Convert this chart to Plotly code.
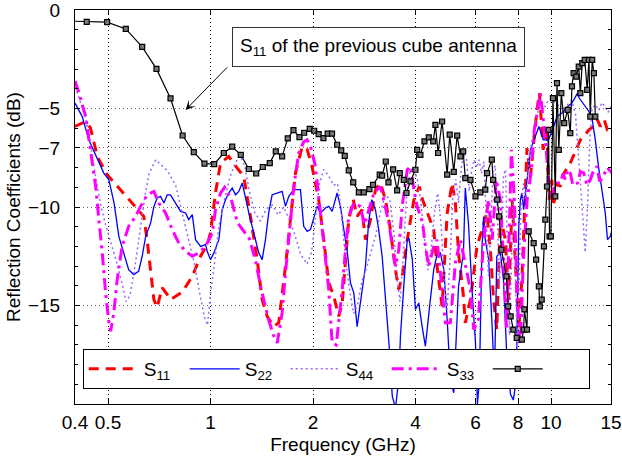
import math
import plotly.graph_objects as go

# ---------------- data (frequency in GHz, reflection in dB) ----------------
freq_ticks = [0.4, 0.5, 1, 2, 4, 6, 8, 10, 15]
freq_tick_text = ['0.4', '0.5', '1', '2', '4', '6', '8', '10', '15']
db_ticks = [0, -5, -7, -10, -15]
db_tick_text = ['0', '\u22125', '\u22127', '\u221210', '\u221215']
db_minor = [-1, -2, -3, -4, -6, -8, -9, -11, -12, -13, -14, -16, -17, -18, -19]

s11_pts = [(0.40, -5.91), (0.43, -5.66), (0.444, -5.98), (0.465, -7.43), (0.497, -8.36), (0.538, -9.04),
           (0.589, -9.83), (0.637, -10.48), (0.652, -11.74), (0.667, -13.35), (0.682, -14.70), (0.697, -15.10),
           (0.721, -14.09), (0.743, -14.40), (0.763, -14.70), (0.826, -14.32), (0.884, -13.52), (0.935, -12.50),
           (0.978, -11.91), (1.0, -11.32), (1.034, -9.29), (1.07, -7.77), (1.131, -7.43), (1.197, -8.02),
           (1.252, -8.45), (1.31, -10.48), (1.371, -12.67), (1.418, -14.70), (1.467, -15.55), (1.533, -16.06),
           (1.586, -15.88), (1.66, -13.01), (1.717, -10.48), (1.776, -8.28), (1.859, -6.93), (1.923, -7.09),
           (1.987, -7.94), (2.078, -9.63), (2.151, -11.66), (2.225, -13.85), (2.302, -14.53), (2.38, -15.55),
           (2.437, -14.87), (2.49, -12.67), (2.547, -10.64), (2.625, -9.63), (2.695, -10.48), (2.786, -10.14),
           (2.851, -11.66), (2.949, -10.64), (3.05, -9.12), (3.155, -8.78), (3.264, -9.63), (3.376, -11.15),
           (3.492, -13.18), (3.572, -14.19), (3.654, -13.52), (3.782, -11.66), (3.957, -9.63), (4.104, -8.96),
           (4.195, -9.63), (4.375, -10.48), (4.524, -11.15), (4.626, -13.01), (4.787, -15.04), (4.955, -10.30),
           (5.124, -8.78), (5.237, -9.80), (5.35, -12.33), (5.53, -14.53), (5.6, -15.88), (5.8, -14.70),
           (6.06, -12.0), (6.27, -11.15), (6.48, -10.30), (6.635, -12.17), (6.78, -14.70), (6.93, -16.22),
           (7.1, -10.48), (7.34, -11.66), (7.51, -14.70), (7.69, -9.63), (7.86, -12.67), (8.04, -16.22),
           (8.21, -13.69), (8.5, -7.01), (8.7, -8.45), (8.89, -6.59), (9.09, -5.07), (9.25, -4.22),
           (9.48, -7.10), (9.72, -5.91), (9.87, -9.63), (10.05, -8.62), (10.16, -9.97), (10.41, -8.78),
           (10.65, -8.96), (10.92, -8.28), (11.39, -7.77), (11.96, -6.93), (12.19, -6.59), (12.48, -6.42),
           (12.92, -6.08), (13.36, -5.91), (13.68, -5.57), (13.95, -5.91), (14.33, -5.57), (14.63, -6.08),
           (15.1, -5.98)]

s22_pts = [(0.40, -4.73), (0.42, -5.41), (0.439, -6.59), (0.46, -7.35), (0.47, -7.77), (0.486, -8.28),
           (0.503, -8.62), (0.521, -9.80), (0.538, -11.49), (0.557, -12.33), (0.575, -13.18), (0.595, -13.43),
           (0.615, -13.27), (0.63, -12.50), (0.645, -11.49), (0.667, -10.81), (0.682, -9.97), (0.697, -9.54),
           (0.713, -9.46), (0.73, -9.80), (0.746, -9.38), (0.763, -9.38), (0.789, -9.80), (0.817, -10.22),
           (0.845, -10.30), (0.863, -10.64), (0.884, -10.39), (0.904, -11.66), (0.935, -12.0), (0.967, -11.91),
           (0.978, -12.25), (1.0, -12.67), (1.023, -12.33), (1.058, -11.66), (1.082, -10.14), (1.107, -9.63),
           (1.131, -9.29), (1.158, -9.04), (1.184, -9.38), (1.211, -9.21), (1.239, -8.78), (1.267, -9.46),
           (1.296, -10.30), (1.325, -10.98), (1.355, -11.66), (1.386, -12.33), (1.418, -12.67), (1.45, -11.66),
           (1.482, -10.30), (1.517, -9.38), (1.57, -9.29), (1.623, -9.21), (1.66, -9.97), (1.698, -9.46),
           (1.756, -9.12), (1.837, -9.12), (1.878, -10.98), (1.923, -11.24), (1.966, -11.15), (2.011, -10.48),
           (2.056, -9.97), (2.103, -10.30), (2.175, -10.05), (2.225, -9.97), (2.276, -10.22), (2.354, -9.29),
           (2.408, -9.97), (2.463, -11.15), (2.518, -12.17), (2.576, -13.85), (2.635, -14.36), (2.695, -16.07),
           (2.756, -14.87), (2.851, -13.01), (2.912, -10.81), (2.976, -9.63), (3.05, -10.14), (3.118, -11.15),
           (3.192, -12.50), (3.264, -14.53), (3.342, -16.90), (3.418, -19.6), (3.492, -20.2), (3.572, -18.76),
           (3.612, -16.56), (3.694, -14.03), (3.782, -11.66), (3.825, -11.57), (3.914, -12.67), (3.997, -15.2),
           (4.088, -14.87), (4.181, -16.05), (4.276, -17.07), (4.39, -15.2), (4.524, -13.18), (4.626, -12.42),
           (4.733, -12.33), (4.843, -13.18), (4.955, -15.72), (5.063, -18.76), (5.18, -19.43), (5.35, -14.03),
           (5.53, -12.33), (5.6, -9.04), (5.72, -10.81), (5.86, -14.19), (6.0, -16.90), (6.08, -20.0),
           (6.16, -18.8), (6.27, -12.0), (6.34, -10.48), (6.41, -11.66), (6.56, -12.67), (6.7, -15.72),
           (6.82, -18.76), (6.93, -12.50), (7.1, -12.33), (7.25, -13.69), (7.4, -17.24), (7.6, -19.5),
           (7.75, -19.8), (7.9, -18.8), (8.04, -10.98), (8.13, -9.63), (8.21, -9.29), (8.31, -10.14),
           (8.5, -8.62), (8.7, -7.10), (8.99, -6.42), (9.21, -5.91), (9.49, -6.59), (9.83, -6.59),
           (10.18, -5.91), (10.41, -5.41), (10.77, -5.23), (11.19, -4.90), (11.52, -4.73), (11.96, -4.22),
           (12.10, -4.47), (12.38, -4.73), (12.61, -4.90), (12.92, -5.15), (13.21, -5.57), (13.49, -6.59),
           (13.78, -7.94), (14.09, -9.12), (14.43, -10.30), (14.65, -11.66), (14.93, -11.49), (15.1, -11.15)]

s44_pts = [(0.40, -3.9), (0.41, -4.4), (0.43, -5.5), (0.445, -6.9), (0.46, -8.5), (0.475, -9.8), (0.49, -10.8),
           (0.51, -11.8), (0.53, -12.8), (0.55, -13.9), (0.565, -14.8), (0.58, -14.5), (0.60, -13.0),
           (0.62, -11.3), (0.64, -9.6), (0.66, -8.3), (0.69, -7.6), (0.72, -7.9), (0.75, -8.2), (0.79, -8.9),
           (0.82, -10.1), (0.86, -11.5), (0.90, -13.0), (0.93, -14.4), (0.96, -15.6), (0.98, -16.0),
           (1.0, -14.4), (1.03, -12.7), (1.06, -10.9), (1.10, -9.6), (1.14, -8.5), (1.18, -7.8), (1.22, -7.4),
           (1.26, -7.9), (1.30, -9.2), (1.35, -10.3), (1.40, -10.7), (1.46, -10.1), (1.52, -9.9), (1.58, -10.4),
           (1.64, -10.0), (1.70, -10.6), (1.76, -11.3), (1.84, -12.4), (1.92, -12.9), (1.98, -12.3),
           (2.03, -10.6), (2.09, -8.8), (2.15, -8.1), (2.22, -8.4), (2.30, -8.9), (2.36, -8.8), (2.42, -10.2),
           (2.49, -12.6), (2.56, -14.2), (2.63, -15.4), (2.70, -15.0), (2.78, -13.8), (2.86, -13.2),
           (2.95, -12.4), (3.05, -11.5), (3.15, -10.3), (3.26, -9.4), (3.36, -9.6), (3.45, -11.2),
           (3.53, -13.6), (3.60, -14.8), (3.68, -12.5), (3.76, -9.6), (3.85, -8.2), (3.95, -8.0), (4.05, -8.6),
           (4.15, -9.8), (4.25, -11.6), (4.35, -13.2), (4.45, -12.0), (4.55, -10.2), (4.65, -9.3),
           (4.75, -10.8), (4.85, -13.5), (4.95, -15.2), (5.05, -12.8), (5.15, -9.4), (5.25, -8.6),
           (5.35, -9.8), (5.45, -8.0), (5.55, -7.3), (5.65, -7.6), (5.75, -9.2), (5.85, -8.1), (5.95, -7.6),
           (6.05, -8.0), (6.15, -7.6), (6.25, -8.3), (6.35, -7.7), (6.45, -10.5), (6.55, -13.5), (6.65, -11.2),
           (6.75, -8.2), (6.85, -7.9), (6.95, -10.0), (7.05, -14.0), (7.15, -11.0), (7.25, -8.4), (7.35, -8.1),
           (7.45, -12.0), (7.55, -16.5), (7.65, -13.0), (7.75, -9.5), (7.85, -12.5), (7.95, -17.5),
           (8.05, -14.0), (8.15, -10.2), (8.3, -8.8), (8.45, -9.6), (8.6, -7.6), (8.75, -6.8), (8.9, -6.1),
           (9.05, -5.5), (9.2, -5.0), (9.4, -4.7), (9.6, -4.9), (9.8, -4.6), (10.0, -4.5), (10.3, -4.7),
           (10.6, -4.9), (10.9, -5.1), (11.2, -4.8), (11.5, -4.6), (11.8, -5.3), (12.0, -7.0), (12.2, -8.6),
           (12.4, -10.5), (12.6, -12.3), (12.8, -10.0), (13.0, -6.5), (13.2, -5.0), (13.5, -4.8), (13.8, -5.1),
           (14.1, -4.7), (14.4, -4.9), (14.7, -5.2), (15.0, -4.9)]

s33_pts = [(0.40, -3.6), (0.411, -4.22), (0.43, -5.41), (0.444, -7.09), (0.46, -8.96), (0.47, -10.64),
           (0.481, -12.33), (0.492, -14.36), (0.503, -15.88), (0.509, -16.31), (0.52, -15.38), (0.532, -13.69),
           (0.55, -12.0), (0.575, -10.98), (0.602, -10.48), (0.623, -9.97), (0.652, -9.38), (0.682, -9.21),
           (0.705, -9.80), (0.738, -10.30), (0.772, -11.15), (0.807, -11.83), (0.845, -12.25), (0.884, -12.50),
           (0.924, -12.33), (0.967, -12.0), (1.012, -11.32), (1.034, -10.14), (1.07, -9.3), (1.1, -9.0),
           (1.15, -9.6), (1.2, -10.8), (1.25, -11.2), (1.3, -11.6), (1.355, -12.7), (1.41, -14.2),
           (1.48, -15.7), (1.53, -16.5), (1.57, -16.9), (1.623, -15.38), (1.66, -13.35), (1.717, -10.64),
           (1.756, -8.96), (1.816, -7.26), (1.878, -6.69), (1.923, -6.59), (1.966, -6.93), (2.033, -7.94),
           (2.078, -9.46), (2.128, -10.81), (2.175, -12.50), (2.225, -14.19), (2.25, -15.55), (2.276, -16.90),
           (2.34, -17.0), (2.437, -14.19), (2.49, -12.17), (2.547, -10.48), (2.635, -9.80), (2.756, -9.97),
           (2.83, -10.9), (2.912, -10.14), (3.02, -9.29), (3.155, -8.96), (3.226, -9.63), (3.342, -10.81),
           (3.418, -12.0), (3.492, -13.01), (3.572, -12.17), (3.654, -9.97), (3.782, -8.11), (3.864, -7.94),
           (3.957, -9.12), (4.044, -9.97), (4.195, -10.81), (4.276, -12.0), (4.375, -13.01), (4.524, -12.0),
           (4.626, -11.66), (4.76, -13.7), (4.895, -15.88), (5.063, -15.88), (5.237, -12.84), (5.417, -11.66),
           (5.57, -12.7), (5.796, -14.19), (5.93, -16.22), (6.12, -15.7), (6.2, -14.19), (6.34, -11.66),
           (6.55, -9.63), (6.72, -11.66), (6.9, -8.62), (7.1, -9.63), (7.25, -12.67), (7.4, -16.22),
           (7.54, -11.15), (7.65, -7.10), (7.8, -9.63), (7.96, -14.70), (8.13, -17.0), (8.29, -12.67),
           (8.51, -9.63), (8.76, -8.11), (8.93, -6.08), (9.11, -5.07), (9.3, -4.22), (9.49, -5.57),
           (9.68, -7.10), (9.87, -9.12), (10.05, -9.63), (10.25, -8.9), (10.41, -8.78), (10.65, -8.78),
           (10.85, -8.3), (11.01, -8.6), (11.2, -8.1), (11.39, -8.28), (11.6, -8.9), (11.96, -8.78),
           (12.2, -8.2), (12.48, -8.28), (12.75, -8.9), (13.04, -8.62), (13.3, -8.2), (13.63, -7.94),
           (13.9, -8.7), (14.25, -8.45), (14.6, -8.0), (15.1, -8.28)]

old_s11_pts = [(0.367, -0.55), (0.433, -0.60), (0.497, -0.62), (0.564, -0.96), (0.630, -1.87), (0.694, -2.99),
               (0.763, -4.49), (0.828, -6.37), (0.893, -7.21), (0.960, -7.80), (1.025, -7.82), (1.094, -7.26),
               (1.158, -6.94), (1.227, -7.35), (1.296, -8.07), (1.362, -8.30), (1.424, -7.97), (1.493, -7.77),
               (1.555, -7.18), (1.623, -7.43), (1.686, -6.52), (1.752, -6.10), (1.825, -6.45), (1.884, -6.23),
               (1.956, -6.03), (2.016, -6.13), (2.078, -6.30), (2.146, -6.50), (2.208, -6.28), (2.274, -6.28),
               (2.354, -6.84), (2.420, -7.13), (2.478, -7.40), (2.547, -8.14), (2.625, -8.75), (2.726, -9.26),
               (2.819, -9.26), (2.928, -9.09), (3.001, -8.88), (3.140, -8.36), (3.192, -8.41), (3.271, -7.69),
               (3.331, -8.75), (3.438, -8.09), (3.532, -9.16), (3.595, -8.28), (3.694, -8.62), (3.763, -9.29),
               (3.864, -8.70), (3.997, -8.11), (4.044, -7.10), (4.134, -7.35), (4.249, -6.67), (4.375, -6.47),
               (4.508, -6.67), (4.575, -5.83), (4.660, -7.26), (4.787, -5.66), (4.955, -8.36), (5.04, -6.33),
               (5.18, -8.22), (5.30, -6.38), (5.42, -7.43), (5.52, -7.18), (5.60, -8.53), (5.80, -8.62),
               (6.00, -9.46), (6.20, -9.26), (6.41, -9.12), (6.49, -8.28), (6.70, -7.60), (6.76, -8.62),
               (6.95, -9.63), (7.04, -10.48), (7.15, -12.17), (7.40, -13.52), (7.48, -15.04), (7.61, -15.55),
               (7.75, -16.22), (7.93, -16.64), (8.21, -16.73), (8.31, -16.22), (8.35, -15.2), (8.50, -16.22),
               (8.60, -11.24), (8.89, -11.83), (9.04, -12.67), (9.21, -14.03), (9.27, -15.04), (9.39, -14.70),
               (9.53, -12.0), (9.62, -10.64), (9.73, -8.96), (9.83, -6.08), (9.90, -11.49), (9.99, -11.49),
               (10.13, -4.47), (10.29, -9.46), (10.41, -3.71), (10.54, -7.10), (10.72, -4.22), (10.93, -5.74),
               (11.19, -5.07), (11.39, -6.25), (11.52, -3.88), (11.65, -3.20), (11.86, -3.38), (12.06, -2.87),
               (12.19, -4.22), (12.35, -2.70), (12.56, -2.53), (12.77, -4.05), (12.92, -2.53), (13.04, -5.41),
               (13.21, -2.53), (13.36, -3.20), (13.49, -5.41)]

annotation_text = 'S<sub>11</sub> of the previous cube antenna'
arrow_target = (0.845, -5.07)   # GHz, dB

# ---------------- figure ----------------
fig = go.Figure()


def add_series(pts, name, color, width, dash, marker=None):
    f, v = zip(*pts)
    kw = dict(x=list(f), y=list(v), name=name,
              line=dict(color=color, width=width, dash=dash))
    if marker:
        kw['mode'] = 'lines+markers'
        kw['marker'] = marker
    else:
        kw['mode'] = 'lines'
    fig.add_trace(go.Scatter(**kw))


add_series(s11_pts, 'S<sub>11</sub>', '#ff0000', 3, '10px,7px')
add_series(s22_pts, 'S<sub>22</sub>', '#0000ff', 1.3, 'solid')
add_series(s44_pts, 'S<sub>44</sub>', '#9966ff', 1.5, '2px,3px')
add_series(s33_pts, 'S<sub>33</sub>', '#ff00ff', 3, '12px,5px,3px,5px')
add_series(old_s11_pts, ' ', '#000000', 1.2, 'solid',
           marker=dict(symbol='square', size=5, color='#777777',
                       line=dict(color='#000000', width=1.2)))

font_family = 'Liberation Sans, Arial, Helvetica, sans-serif'

fig.update_layout(
    width=622, height=459,
    margin=dict(l=75, r=11, t=10, b=55, autoexpand=False),
    paper_bgcolor='white', plot_bgcolor='white',
    font=dict(family=font_family, size=19, color='black'),
    showlegend=True,
    legend=dict(orientation='h', x=0.0144, xanchor='left', y=0.1396, yanchor='top',
                bgcolor='white', bordercolor='black', borderwidth=1,
                entrywidth=36, entrywidthmode='pixels', itemwidth=50,
                font=dict(family=font_family, size=19)),
    xaxis=dict(type='log', range=[math.log10(0.4), math.log10(15)], automargin=False,
               tickmode='array', tickvals=freq_ticks, ticktext=freq_tick_text,
               ticks='inside', ticklen=5, tickcolor='black', ticklabeloverflow='allow',
               showline=True, linecolor='black', linewidth=1, mirror='ticks',
               showgrid=True, gridcolor='#000000', griddash='1px,3px', gridwidth=1,
               zeroline=False, ticklabelstandoff=1,
               title=dict(text='Frequency (GHz)', standoff=5,
                          font=dict(family=font_family, size=19))),
    yaxis=dict(range=[-20, 0], automargin=False,
               tickmode='array', tickvals=db_ticks, ticktext=db_tick_text,
               ticks='inside', ticklen=5, tickcolor='black', ticklabeloverflow='allow',
               minor=dict(tickvals=db_minor, ticks='inside', ticklen=3, tickcolor='black', showgrid=False),
               showline=True, linecolor='black', linewidth=1, mirror='ticks',
               showgrid=True, gridcolor='#666666', griddash='1px,3px', gridwidth=1,
               zeroline=False, ticklabelstandoff=10,
               title=dict(text='Reflection Coefficients (dB)', standoff=2,
                          font=dict(family=font_family, size=19))),
    annotations=[
        dict(text=annotation_text, xref='paper', yref='paper', x=0.5653, y=0.907,
             xanchor='center', yanchor='middle', showarrow=False,
             bgcolor='white', bordercolor='#333333', borderwidth=1, borderpad=7,
             font=dict(family=font_family, size=19, color='black')),
        dict(text='', xref='x', yref='y',
             x=math.log10(arrow_target[0]), y=arrow_target[1],
             ax=43, ay=-44, showarrow=True, arrowhead=3, arrowsize=1.6,
             arrowwidth=1, arrowcolor='black', standoff=0),
    ],
)

fig.write_html('out.html')
